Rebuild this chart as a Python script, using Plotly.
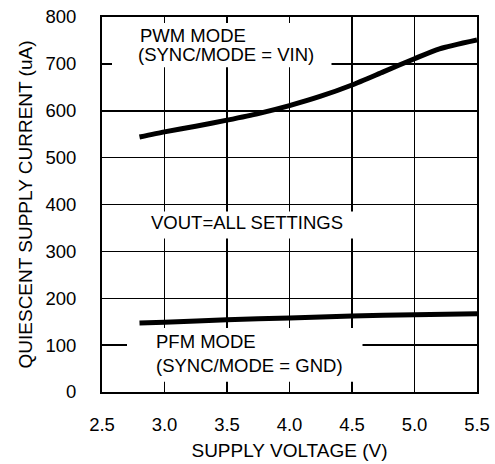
import plotly.graph_objects as go

# Data
pwm_v = [2.8, 3.0, 3.25, 3.5, 3.75, 4.0, 4.25, 4.5, 4.75, 5.0, 5.2, 5.5]
pwm_i = [544, 555, 567, 580, 594, 611, 631, 655, 683, 711, 732, 751]
pfm_v = [2.8, 3.0, 3.5, 4.0, 4.5, 5.0, 5.5]
pfm_i = [147, 149, 154, 158, 162, 165, 167]

x_ticks = [2.5, 3.0, 3.5, 4.0, 4.5, 5.0, 5.5]
y_ticks = [0, 100, 200, 300, 400, 500, 600, 700, 800]

FONT = "Liberation Sans, Arial, sans-serif"

fig = go.Figure()
fig.add_trace(go.Scatter(x=pwm_v, y=pwm_i, mode="lines",
                         line=dict(color="black", width=5, shape="spline", smoothing=0.6),
                         showlegend=False, hoverinfo="skip"))
fig.add_trace(go.Scatter(x=pfm_v, y=pfm_i, mode="lines",
                         line=dict(color="black", width=5, shape="spline", smoothing=0.6),
                         showlegend=False, hoverinfo="skip"))

# white masks behind the labels (cover gridlines)
for (x0, x1, y0, y1) in [(2.58, 4.336, 693, 787), (2.844, 4.548, 327.5, 385), (2.70, 4.584, 22, 136.5)]:
    fig.add_shape(type="rect", xref="x", yref="y", x0=x0, x1=x1, y0=y0, y1=y1,
                  fillcolor="white", line=dict(width=0), layer="between")

ann_font = dict(family=FONT, size=18.5, color="black")
for (x, y, t) in [(2.796, 761.6, "PWM MODE"), (2.778, 719, "(SYNC/MODE = VIN)"),
                  (2.884, 361, "VOUT=ALL SETTINGS"),
                  (2.924, 107.3, "PFM MODE"), (2.924, 57.5, "(SYNC/MODE = GND)")]:
    fig.add_annotation(x=x, y=y, xref="x", yref="y", text=t, showarrow=False,
                       xanchor="left", yanchor="middle", font=ann_font, borderpad=0)

axis_common = dict(showline=True, linecolor="black", linewidth=2, mirror=True,
                   showgrid=True, gridcolor="black", gridwidth=1.5, zeroline=False,
                   automargin=False,
                   ticks="", tickfont=dict(family=FONT, size=18.5, color="black"))

fig.update_xaxes(range=[2.5, 5.5], tickvals=x_ticks, ticktext=[f"{v:.1f}" for v in x_ticks],
                 title=dict(text="SUPPLY VOLTAGE (V)", font=dict(family=FONT, size=19, color="black"),
                            standoff=9),
                 ticklabelstandoff=15, **axis_common)
fig.update_yaxes(range=[0, 800], tickvals=y_ticks, ticktext=[str(v) for v in y_ticks],
                 title=dict(text="QUIESCENT SUPPLY CURRENT (uA)", font=dict(family=FONT, size=19, color="black"),
                            standoff=8),
                 ticklabelstandoff=20, **axis_common)

fig.update_layout(width=495, height=464, margin=dict(l=102, r=18, t=17, b=72),
                  paper_bgcolor="white", plot_bgcolor="white", font=dict(family=FONT),
                  hovermode=False)

fig.write_html("out.html", config={"displayModeBar": False, "staticPlot": True},
               post_script="document.body.style.margin='0px';document.body.style.overflow='hidden';")
